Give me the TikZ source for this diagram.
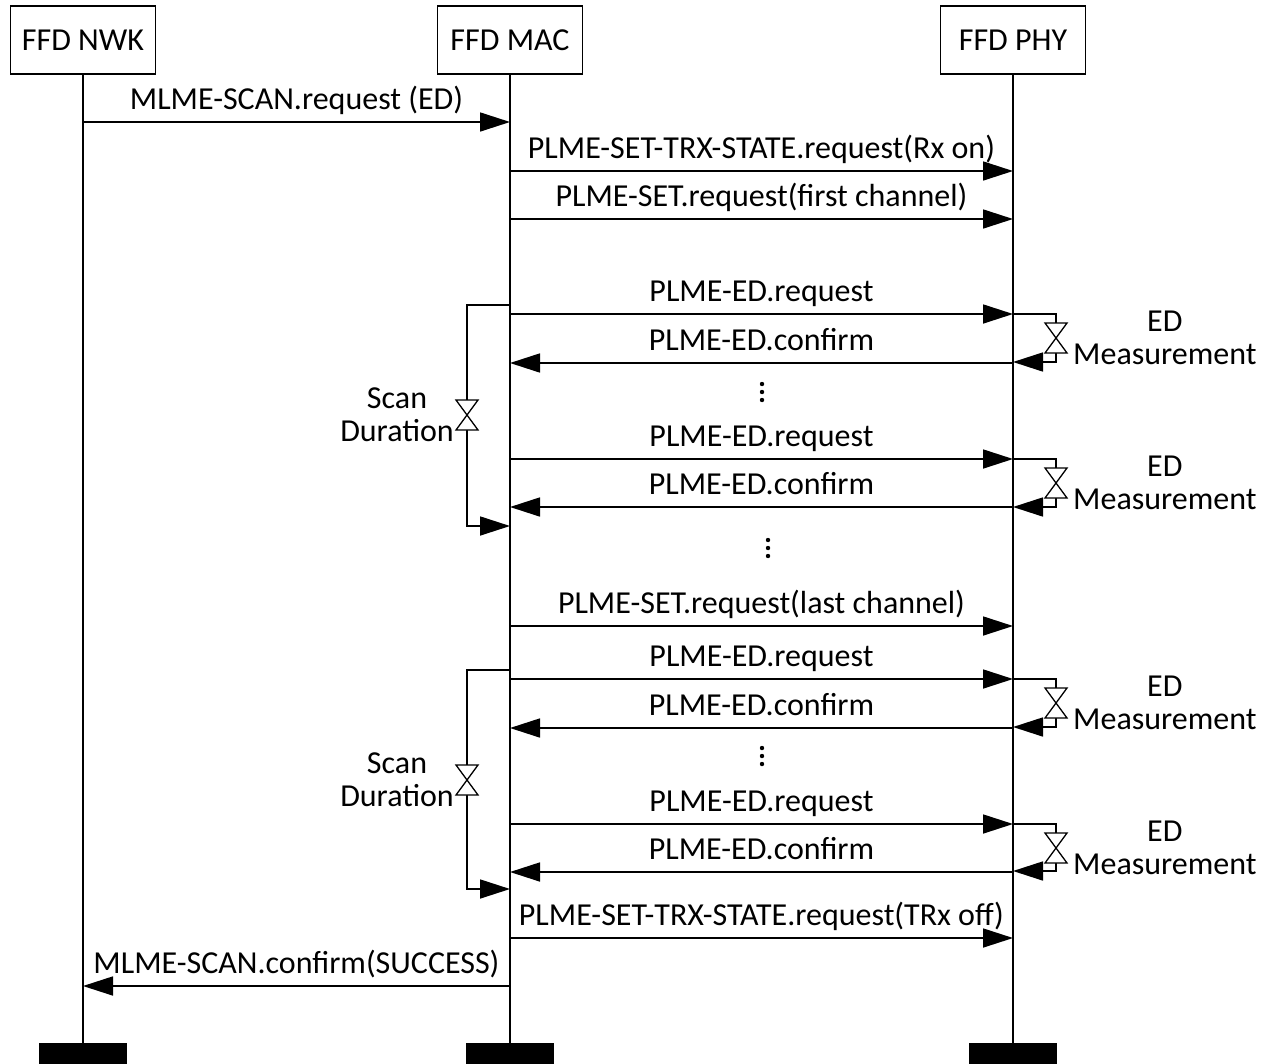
\documentclass[tikz,border=0pt]{standalone}
\usepackage{fontspec}
\setmainfont{Carlito}
\usetikzlibrary{arrows.meta}
\begin{document}
\begin{tikzpicture}[x=1pt,y=-1pt,
  every node/.style={font=\fontsize{32}{33}\selectfont},
  ln/.style={line width=1.7pt},
  entity/.style={draw,line width=1.7pt,minimum width=145pt,minimum height=68pt,inner sep=0pt},
  endbar/.style={fill=black,minimum width=88pt,minimum height=26pt,inner sep=0pt},
  msg/.style={ln,-{Triangle[length=30pt,width=19pt]}},
  lbl/.style={midway,anchor=base,yshift=13pt,inner sep=0pt},
  hourglass/.pic={\draw[line width=1.3pt,fill=white] (-11,-15) -- (11,-15) -- (-11,15) -- (11,15) -- cycle;},
  vdots/.pic={\foreach \d in {-8,0,8} \fill (0,\d) circle (2.2pt);}
]
\useasboundingbox (0,0) rectangle (1276,1063);

% participants
\node[entity] (nwk) at (83,40) {FFD NWK};
\node[entity] (mac) at (510,40) {FFD MAC};
\node[entity] (phy) at (1013,40) {FFD PHY};

% end markers
\node[endbar] (nwkend) at (nwk |- 0,1056) {};
\node[endbar] (macend) at (mac |- 0,1056) {};
\node[endbar] (phyend) at (phy |- 0,1056) {};

% lifelines
\draw[ln] (nwk.south) -- (nwkend.north);
\draw[ln] (mac.south) -- (macend.north);
\draw[ln] (phy.south) -- (phyend.north);

% messages
\draw[msg] (nwk |- 0,122) -- (mac |- 0,122) node[lbl] {MLME-SCAN.request (ED)};
\draw[msg] (mac |- 0,171) -- (phy |- 0,171) node[lbl] {PLME-SET-TRX-STATE.request(Rx on)};
\draw[msg] (mac |- 0,219) -- (phy |- 0,219) node[lbl] {PLME-SET.request(first channel)};

\draw[msg] (mac |- 0,314) -- (phy |- 0,314) node[lbl] {PLME-ED.request};
\draw[msg] (phy |- 0,363) -- (mac |- 0,363) node[lbl] {PLME-ED.confirm};
\pic at (762,392) {vdots};
\draw[msg] (mac |- 0,459) -- (phy |- 0,459) node[lbl] {PLME-ED.request};
\draw[msg] (phy |- 0,507) -- (mac |- 0,507) node[lbl] {PLME-ED.confirm};

\pic at (768,548) {vdots};

\draw[msg] (mac |- 0,626) -- (phy |- 0,626) node[lbl] {PLME-SET.request(last channel)};
\draw[msg] (mac |- 0,679) -- (phy |- 0,679) node[lbl] {PLME-ED.request};
\draw[msg] (phy |- 0,728) -- (mac |- 0,728) node[lbl] {PLME-ED.confirm};
\pic at (762,756) {vdots};
\draw[msg] (mac |- 0,824) -- (phy |- 0,824) node[lbl] {PLME-ED.request};
\draw[msg] (phy |- 0,872) -- (mac |- 0,872) node[lbl] {PLME-ED.confirm};

\draw[msg] (mac |- 0,938) -- (phy |- 0,938) node[lbl] {PLME-SET-TRX-STATE.request(TRx off)};
\draw[msg] (mac |- 0,986) -- (nwk |- 0,986) node[lbl] {MLME-SCAN.confirm(SUCCESS)};

% scan duration brackets
\foreach \t/\m/\b in {305/415/526, 670/780/889} {
  \coordinate (sd) at (467,\m);
  \draw[ln] (mac |- 0,\t) -- (467,\t) -- (467,\m-15);
  \draw[msg] (467,\m+15) -- (467,\b) -- (mac |- 0,\b);
  \pic at (sd) {hourglass};
  \node[anchor=east,align=center,inner sep=0pt] (sdl) at (454,\m) {Scan\\Duration};
}

% energy detection brackets
\foreach \r/\c in {314/362, 459/507, 679/727, 824/871} {
  \coordinate (ed) at (1056,\r+24);
  \draw[ln] (phy |- 0,\r) -- (1056,\r) -- (1056,\r+9);
  \draw[msg] (1056,\r+39) -- (1056,\c) -- (phy |- 0,\c);
  \pic at (ed) {hourglass};
  \node[anchor=west,align=center,inner sep=0pt] (edl) at (1073,\r+24) {ED\\Measurement};
}
\end{tikzpicture}
\end{document}
